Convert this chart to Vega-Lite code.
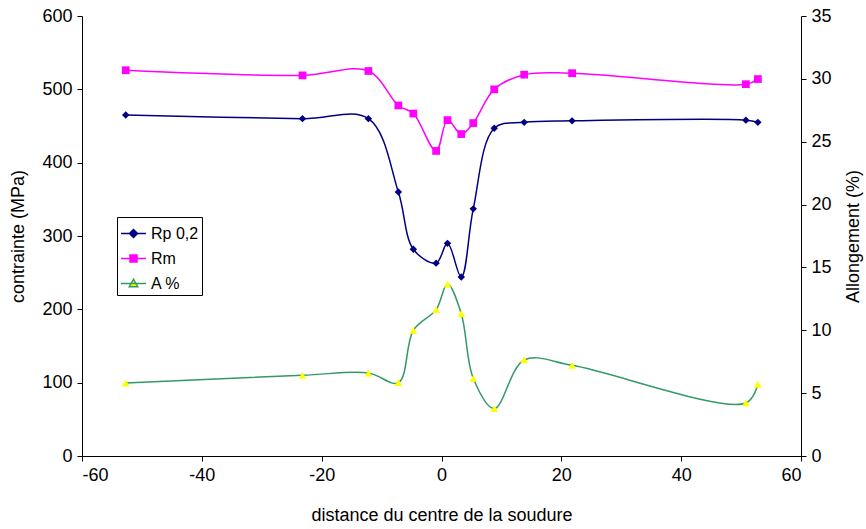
{
  "$schema": "https://vega.github.io/schema/vega-lite/v6.json",
  "width": 719,
  "height": 440,
  "autosize": {"type": "none"},
  "padding": {"left": 82, "top": 16, "right": 65, "bottom": 73},
  "background": "white",
  "config": {
    "font": "Liberation Sans",
    "view": {"stroke": null},
    "axis": {
      "grid": false,
      "domainColor": "black",
      "tickColor": "black",
      "labelColor": "black",
      "titleColor": "black",
      "labelFont": "Liberation Sans",
      "titleFont": "Liberation Sans",
      "labelFontSize": 18,
      "titleFontSize": 18,
      "titleFontWeight": "normal",
      "tickSize": 5,
      "labelPadding": 5
    },
    "legend": {
      "labelFont": "Liberation Sans",
      "labelFontSize": 16,
      "labelColor": "black"
    }
  },
  "data": {
    "values": [
      {"d": -52.7, "v": 465, "s": "Rp 0,2"},
      {"d": -23.2, "v": 460, "s": "Rp 0,2"},
      {"d": -12.2, "v": 460, "s": "Rp 0,2"},
      {"d": -7.2, "v": 360, "s": "Rp 0,2"},
      {"d": -4.7, "v": 282, "s": "Rp 0,2"},
      {"d": -0.9, "v": 263, "s": "Rp 0,2"},
      {"d": 1.0, "v": 290, "s": "Rp 0,2"},
      {"d": 3.3, "v": 244, "s": "Rp 0,2"},
      {"d": 5.3, "v": 337, "s": "Rp 0,2"},
      {"d": 8.8, "v": 447, "s": "Rp 0,2"},
      {"d": 13.8, "v": 455, "s": "Rp 0,2"},
      {"d": 21.8, "v": 457, "s": "Rp 0,2"},
      {"d": 50.8, "v": 458, "s": "Rp 0,2"},
      {"d": 52.8, "v": 455, "s": "Rp 0,2"},
      {"d": -52.7, "v": 526, "s": "Rm"},
      {"d": -23.2, "v": 519, "s": "Rm"},
      {"d": -12.2, "v": 525, "s": "Rm"},
      {"d": -7.2, "v": 478, "s": "Rm"},
      {"d": -4.7, "v": 467, "s": "Rm"},
      {"d": -0.9, "v": 416, "s": "Rm"},
      {"d": 1.0, "v": 458, "s": "Rm"},
      {"d": 3.3, "v": 439, "s": "Rm"},
      {"d": 5.3, "v": 454, "s": "Rm"},
      {"d": 8.8, "v": 500, "s": "Rm"},
      {"d": 13.8, "v": 520, "s": "Rm"},
      {"d": 21.8, "v": 522, "s": "Rm"},
      {"d": 50.8, "v": 507, "s": "Rm"},
      {"d": 52.8, "v": 514, "s": "Rm"},
      {"d": -52.7, "v": 5.8, "s": "A %"},
      {"d": -23.2, "v": 6.42, "s": "A %"},
      {"d": -12.2, "v": 6.6, "s": "A %"},
      {"d": -7.2, "v": 5.83, "s": "A %"},
      {"d": -4.7, "v": 10.0, "s": "A %"},
      {"d": -0.9, "v": 11.64, "s": "A %"},
      {"d": 1.0, "v": 13.68, "s": "A %"},
      {"d": 3.3, "v": 11.32, "s": "A %"},
      {"d": 5.3, "v": 6.18, "s": "A %"},
      {"d": 8.8, "v": 3.77, "s": "A %"},
      {"d": 13.8, "v": 7.64, "s": "A %"},
      {"d": 21.8, "v": 7.21, "s": "A %"},
      {"d": 50.8, "v": 4.22, "s": "A %"},
      {"d": 52.8, "v": 5.7, "s": "A %"}
    ]
  },
  "encoding": {
    "x": {
      "field": "d",
      "type": "quantitative",
      "scale": {"domain": [-60, 60], "nice": false},
      "axis": {
        "orient": "bottom",
        "values": [-60, -40, -20, 0, 20, 40, 60],
        "labelExpr": "datum.value < 0 ? '-' + abs(datum.value) : '' + datum.value",
        "title": "distance du centre de la soudure",
        "titlePadding": 22
      }
    }
  },
  "layer": [
    {
      "transform": [{"filter": "datum.s !== 'A %'"}],
      "encoding": {
        "y": {
          "field": "v",
          "type": "quantitative",
          "scale": {"domain": [0, 600], "nice": false},
          "axis": {"orient": "left", "values": [0, 100, 200, 300, 400, 500, 600], "title": "contrainte (MPa)", "titlePadding": 14}
        }
      },
      "layer": [
        {
          "mark": {"type": "line", "interpolate": "catmull-rom", "strokeWidth": 1.5},
          "encoding": {
            "color": {
              "field": "s",
              "type": "nominal",
              "scale": {"domain": ["Rp 0,2", "Rm", "A %"], "range": ["#000080", "#FF00FF", "#339966"]},
              "legend": {
                "title": null,
                "orient": "none",
                "legendX": 35,
                "legendY": 201,
                "fillColor": "white",
                "strokeColor": "black",
                "padding": 3,
                "symbolSize": 625,
                "symbolStrokeWidth": 1.5,
                "rowPadding": 3,
                "labelOffset": 4,
                "encode": {
                  "symbols": {
                    "update": {
                      "shape": {"signal": "datum.value === 'Rp 0,2' ? 'M-1,0H1M0,-0.32L0.32,0L0,0.32L-0.32,0Z' : datum.value === 'Rm' ? 'M-1,0H1M-0.28,-0.28H0.28V0.28H-0.28Z' : 'M-1,0H1M0,-0.34L0.34,0.26H-0.34Z'"},
                      "fill": {"signal": "datum.value === 'A %' ? '#FFFF00' : datum.value === 'Rm' ? '#FF00FF' : '#000080'"},
                      "stroke": {"signal": "datum.value === 'A %' ? '#339966' : datum.value === 'Rm' ? '#FF00FF' : '#000080'"}
                    }
                  }
                }
              }
            }
          }
        },
        {
          "transform": [{"filter": "datum.s === 'Rp 0,2'"}],
          "mark": {"type": "point", "shape": "diamond", "filled": true, "size": 55, "color": "#000080", "opacity": 1}
        },
        {
          "transform": [{"filter": "datum.s === 'Rm'"}],
          "mark": {"type": "point", "shape": "square", "filled": true, "size": 60, "color": "#FF00FF", "opacity": 1}
        }
      ]
    },
    {
      "transform": [{"filter": "datum.s === 'A %'"}],
      "encoding": {
        "y": {
          "field": "v",
          "type": "quantitative",
          "scale": {"domain": [0, 35], "nice": false},
          "axis": {"orient": "right", "values": [0, 5, 10, 15, 20, 25, 30, 35], "title": "Allongement (%)", "titleAngle": 270, "titlePadding": 31}
        }
      },
      "layer": [
        {"mark": {"type": "line", "interpolate": "catmull-rom", "strokeWidth": 1.5, "color": "#339966"}},
        {"mark": {"type": "point", "shape": "triangle-up", "filled": true, "size": 60, "color": "#FFFF00", "opacity": 1}}
      ]
    }
  ],
  "resolve": {"scale": {"y": "independent"}}
}
